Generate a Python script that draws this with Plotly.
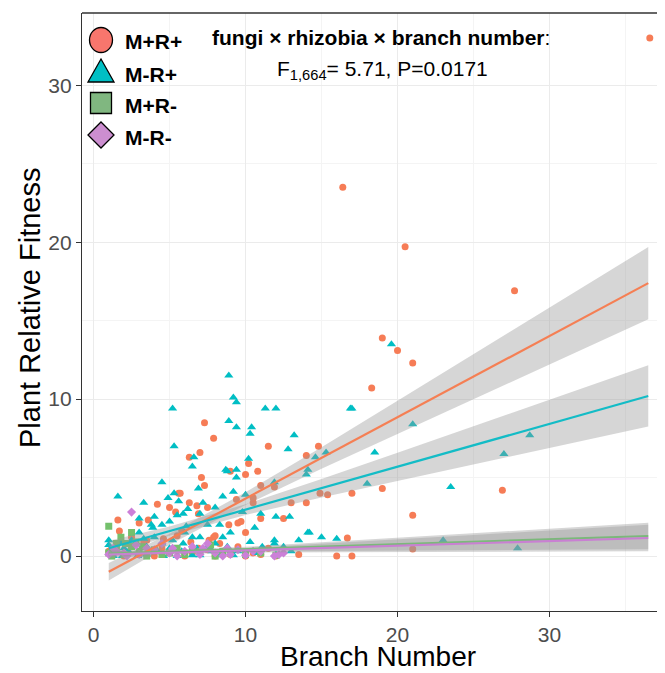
import plotly.graph_objects as go

# ---------------- data ----------------
mrp_x = [36.6, 16.4, 20.5, 27.7, 19.0, 20.0, 21.0, 18.3, 7.3, 7.9, 7.0, 6.3, 11.5, 14.8, 14.0, 7.1, 7.3, 5.7,
         9.0, 10.0, 10.8, 10.2, 11.0, 11.9, 14.9, 15.4, 17.0, 19.0, 26.9, 21.0, 13.0, 14.0, 10.5, 9.4, 10.5,
         11.0, 12.5, 8.9, 9.5, 9.7, 10.0, 16.7, 10.0, 11.0, 16.0, 17.0, 21.0, 1.6, 1.7, 3.0, 3.6, 4.2, 5.0,
         5.4, 5.6, 6.3, 6.8, 7.5, 6.9, 7.9, 8.0, 6.9, 6.4, 8.3, 7.6, 2.0, 3.0, 4.0, 5.0, 6.0, 8.0, 9.0, 12.0,
         2.5, 4.6, 5.8, 3.3, 1.2,
         1.0, 1.5, 2.5, 3.5, 4.5, 5.5, 6.5, 7.5, 8.5, 9.5, 10.5, 11.5, 13.5]
mrp_y = [33.0, 23.5, 19.7, 16.9, 13.9, 13.1, 12.3, 10.7, 8.5, 7.5, 6.6, 6.3, 7.0, 7.0, 6.4, 5.0, 4.5, 4.0,
         5.4, 5.2, 5.4, 5.9, 4.5, 4.4, 4.0, 3.9, 4.0, 4.3, 4.2, 2.6, 3.4, 3.4, 3.4, 3.6, 3.7,
         2.4, 2.4, 2.0, 2.1, 2.2, 1.5, 1.15, 0.0, 0.1, 0.0, 0.0, 0.45, 2.3, 1.6, 2.1, 2.3, 3.3, 3.1,
         2.8, 4.0, 3.4, 3.2, 3.1, 2.7, 1.2, 1.3, 0.5, 0.9, 0.8, 1.0, 0.0, 0.1, 0.0, 0.2, 0.0, 0.0, 0.1, 0.0,
         0.6, 1.1, 1.6, 0.9, 0.5,
         0.3, 0.6, 1.2, 1.0, 0.5, 1.3, 0.2, 0.4, 0.3, 0.6, 0.2, 0.5, 0.1]

mr_plus_x = [8.9, 9.2, 9.4, 11.3, 12.0, 5.2, 17.0, 8.9, 9.4, 10.4, 10.3, 13.2, 12.8, 10.2, 8.7, 9.4, 9.4,
             14.0, 15.3, 14.1, 18.5, 16.9, 19.6, 21.0, 14.6, 18.0, 15.0, 16.0, 14.2, 23.5, 27.0, 28.7, 23.0,
             27.9, 4.5, 1.6, 3.3, 4.9, 5.3, 6.9, 5.3, 6.5, 6.6, 8.8, 9.2, 10.0, 11.9, 11.0, 12.0, 12.9, 14.1,
             11.9, 11.9, 1.0, 1.0, 3.0, 3.8, 3.9, 4.5, 5.0, 5.5, 5.9, 6.1, 7.0, 7.5, 8.0, 8.3, 8.5, 8.0, 7.0,
             6.5, 5.9, 5.0, 4.5, 6.5, 8.3, 7.0, 9.2, 5.5, 4.6, 2.9, 1.9, 1.3, 10.3, 11.1, 2.0, 2.5, 3.5, 4.0,
             6.0, 7.5, 9.0, 9.8, 10.6, 12.0, 13.0, 3.5, 1.5,
             1.2, 1.8, 2.3, 2.8, 3.3, 4.2, 5.2, 5.8, 6.8, 7.8, 8.8, 9.5, 10.8, 12.5, 13.5, 3.0, 4.0, 6.2,
             7.2, 8.5, 5.6]
mr_plus_y = [11.5, 10.1, 9.8, 9.4, 9.4, 9.4, 9.4, 8.6, 8.2, 8.2, 7.8, 7.7, 6.8, 6.2, 5.5, 5.5, 5.0,
             5.2, 6.6, 5.5, 6.6, 9.4, 13.5, 8.4, 6.3, 4.6, 1.2, 1.1, 1.5, 4.4, 6.5, 7.7, 1.0,
             0.5, 4.7, 3.8, 3.4, 3.7, 4.0, 4.3, 7.0, 5.7, 6.3, 5.4, 4.1, 3.9, 4.7, 2.7, 2.5, 2.5, 1.5,
             1.0, 0.8, 1.0, 0.7, 1.5, 2.0, 1.8, 2.0, 2.2, 2.6, 2.7, 1.9, 2.7, 2.0, 3.1, 2.0, 1.2, 0.8, 1.2,
             1.2, 0.8, 0.5, 0.8, 0.05, 0.05, 0.05, 0.05, 0.0, 0.0, 0.0, 0.0, 0.0, 0.9, 0.6, 0.5, 1.0, 0.6, 1.2,
             1.5, 0.6, 1.5, 2.8, 1.8, 0.1, 0.3, 0.1, 0.3,
             0.4, 0.9, 0.3, 0.7, 1.1, 0.3, 1.0, 0.3, 0.5, 0.3, 0.6, 0.3, 0.2, 0.6, 1.0, 2.4, 2.5, 3.0,
             3.4, 3.8, 3.5]

mpr_minus_x = [1.0, 2.5, 1.5, 2.1, 7.7, 1.0, 2.0, 3.0, 4.0, 5.0, 6.0, 8.0, 10.0, 12.0, 2.5, 1.5, 3.5, 4.5,
               7.0, 9.0, 1.2, 1.8, 2.8, 3.2, 5.5, 6.5, 8.5, 11.0]
mpr_minus_y = [1.9, 1.5, 0.8, 0.8, 0.7, 0.2, 0.1, 0.3, 0.4, 0.2, 0.1, 0.0, 0.1, 0.05, 0.6, 0.4, 0.0, 0.1,
               0.3, 0.2, 0.0, 1.2, 0.9, 0.6, 0.5, 0.4, 0.3, 0.2]

mr_minus_x = [2.5, 7.5, 11.9, 8.5, 1.0, 1.5, 2.0, 3.0, 4.0, 5.0, 6.0, 7.0, 8.0, 9.0, 10.0, 11.0, 3.5, 5.5,
              6.5, 2.2, 9.5, 12.5, 1.3, 2.8, 4.5, 5.2, 7.2, 8.8, 10.5, 12.2]
mr_minus_y = [2.8, 0.8, 0.0, 0.0, 0.1, 0.3, 0.2, 0.1, 0.4, 0.2, 0.3, 0.1, 0.2, 0.1, 0.05, 0.3, 0.5, 0.0,
              0.6, 0.0, 0.4, 0.2, 0.5, 0.7, 0.8, 0.5, 0.5, 0.5, 0.3, 0.1]

# fitted lines and confidence bands (read at these branch numbers)
fit_x = [1, 5, 10, 15, 20, 25, 30, 36.5]
mrp_fit = [-1.0, 1.07, 3.66, 6.25, 8.84, 11.43, 14.02, 17.39]
mrp_lo = [-1.56, 0.72, 3.26, 5.56, 7.79, 10.01, 12.21, 15.09]
mrp_hi = [-0.44, 1.42, 4.06, 6.94, 9.89, 12.85, 15.83, 19.69]
mr_plus_fit = [0.5, 1.59, 2.96, 4.32, 5.69, 7.06, 8.42, 10.2]
mr_plus_lo = [0.02, 1.29, 2.62, 3.73, 4.79, 5.86, 6.88, 8.25]
mr_plus_hi = [0.98, 1.89, 3.30, 4.91, 6.59, 8.26, 9.96, 12.15]
mpr_minus_fit = [0.15, 0.28, 0.44, 0.60, 0.75, 0.91, 1.07, 1.28]
mpr_minus_lo = [-0.05, 0.16, 0.29, 0.33, 0.35, 0.38, 0.40, 0.43]
mpr_minus_hi = [0.35, 0.40, 0.59, 0.87, 1.15, 1.44, 1.74, 2.13]
mr_minus_fit = [0.10, 0.22, 0.37, 0.51, 0.66, 0.81, 0.96, 1.15]
mr_minus_lo = [-0.10, 0.10, 0.22, 0.24, 0.26, 0.28, 0.29, 0.30]
mr_minus_hi = [0.30, 0.34, 0.52, 0.78, 1.06, 1.34, 1.63, 2.00]

groups = ["M+R+", "M-R+", "M+R-", "M-R-"]
x_ticks = [0, 10, 20, 30]
y_ticks = [0, 10, 20, 30]

# ---------------- styling ----------------
# the page body adds an 8px offset, so the figure is 8px smaller and all
# pixel targets below are given in window coordinates
OFF = 8
WIN_W, WIN_H = 665, 673
W, H = WIN_W - OFF, WIN_H - OFF
PL, PR, PT, PB = 82, 665, 13, 611          # plot panel in window pixels
L, R, T, B = PL - OFF, WIN_W - PR, PT - OFF, WIN_H - PB
FONT = "Arial, Liberation Sans, sans-serif"

pt_col = ["#F67C56", "#00BEC4", "#74C06C", "#CC80D8"]
line_col = ["#F57F54", "#13BCC6", "#7BB87A", "#C980D2"]
leg_col = ["#F8766D", "#00BFC4", "#80B780", "#CC8ED0"]
symbols = ["circle", "triangle-up", "square", "diamond"]
sizes = [7, 8, 7, 7]

fig = go.Figure()

pts = [(mrp_x, mrp_y), (mr_plus_x, mr_plus_y), (mpr_minus_x, mpr_minus_y), (mr_minus_x, mr_minus_y)]
for i, (xs, ys) in enumerate(pts):
    fig.add_trace(go.Scatter(x=xs, y=ys, mode="markers", name=groups[i], showlegend=False,
                             marker=dict(symbol=symbols[i], size=sizes[i], color=pt_col[i],
                                         line=dict(width=0))))

bands = [(mrp_lo, mrp_hi), (mr_plus_lo, mr_plus_hi), (mpr_minus_lo, mpr_minus_hi), (mr_minus_lo, mr_minus_hi)]
for lo, hi in bands:
    fig.add_trace(go.Scatter(x=fit_x + fit_x[::-1], y=hi + lo[::-1], mode="lines", fill="toself",
                             fillcolor="rgba(153,153,153,0.4)", line=dict(width=0), showlegend=False,
                             hoverinfo="skip"))

fits = [mrp_fit, mr_plus_fit, mpr_minus_fit, mr_minus_fit]
for i, f in enumerate(fits):
    fig.add_trace(go.Scatter(x=fit_x, y=f, mode="lines", line=dict(color=line_col[i], width=2.2),
                             showlegend=False))

pw = PR - PL
ph = PB - PT


def px(v):
    return (v - PL) / pw


def py(v):
    return (PB - v) / ph


shapes = []
# top border of panel
shapes.append(dict(type="line", xref="paper", yref="paper", x0=0, x1=1, y0=1, y1=1,
                   line=dict(color="#333333", width=1.3)))
# legend keys
cx = 101
ly = [40, 72, 103, 135]
shapes.append(dict(type="circle", xref="paper", yref="paper", x0=px(cx - 11.5), x1=px(cx + 11.5),
                   y0=py(ly[0] + 12.5), y1=py(ly[0] - 12.5), fillcolor=leg_col[0],
                   line=dict(color="black", width=1.3)))
tri = f"M {px(cx - 13)} {py(ly[1] + 10)} L {px(cx + 13)} {py(ly[1] + 10)} L {px(cx)} {py(ly[1] - 13)} Z"
shapes.append(dict(type="path", xref="paper", yref="paper", path=tri, fillcolor=leg_col[1],
                   line=dict(color="black", width=1.3)))
shapes.append(dict(type="rect", xref="paper", yref="paper", x0=px(cx - 10.5), x1=px(cx + 10.5),
                   y0=py(ly[2] + 10.5), y1=py(ly[2] - 10.5), fillcolor=leg_col[2],
                   line=dict(color="black", width=1.3)))
dia = (f"M {px(cx - 13)} {py(ly[3])} L {px(cx)} {py(ly[3] - 13)} L {px(cx + 13)} {py(ly[3])} "
       f"L {px(cx)} {py(ly[3] + 13)} Z")
shapes.append(dict(type="path", xref="paper", yref="paper", path=dia, fillcolor=leg_col[3],
                   line=dict(color="black", width=1.3)))

annotations = []
for i, g in enumerate(groups):
    annotations.append(dict(xref="paper", yref="paper", x=px(123), y=py(ly[i] + 2), xanchor="left",
                            yanchor="middle", showarrow=False, text=f"<b>{g}</b>",
                            font=dict(family=FONT, size=21, color="black")))
annotations.append(dict(xref="paper", yref="paper", x=px(210), y=py(38), xanchor="left", yanchor="middle",
                        showarrow=False, text="<b>fungi × rhizobia × branch number</b>:",
                        font=dict(family=FONT, size=21, color="black")))
annotations.append(dict(xref="paper", yref="paper", x=px(275), y=py(70), xanchor="left", yanchor="middle",
                        showarrow=False, text="F<sub>1,664</sub>= 5.71, P=0.0171",
                        font=dict(family=FONT, size=21, color="black")))
# axis titles
annotations.append(dict(xref="paper", yref="paper", x=px(378), y=py(656), xanchor="center", yanchor="middle",
                        showarrow=False, text="Branch Number",
                        font=dict(family=FONT, size=28, color="black")))
annotations.append(dict(xref="paper", yref="paper", x=px(30), y=py(308), xanchor="center", yanchor="middle",
                        showarrow=False, text="Plant Relative Fitness", textangle=-90,
                        font=dict(family=FONT, size=29, color="black")))

axis_common = dict(
    showline=True, linecolor="#333333", linewidth=1.3, mirror=False,
    ticks="outside", ticklen=5, tickwidth=1.2, tickcolor="#333333",
    tickfont=dict(family=FONT, size=21, color="#4D4D4D"),
    showgrid=True, gridcolor="#EBEBEB", gridwidth=1.2, zeroline=False, automargin=False,
    minor=dict(dtick=5, showgrid=True, gridcolor="#F4F4F4", gridwidth=0.6, ticks=""),
)

fig.update_layout(
    width=W, height=H,
    margin=dict(l=L, r=R, t=T, b=B, pad=0),
    paper_bgcolor="white", plot_bgcolor="white",
    showlegend=False,
    shapes=shapes, annotations=annotations,
    xaxis=dict(range=[-0.76, 37.6], tickvals=x_ticks, tick0=0, **axis_common),
    yaxis=dict(range=[-3.5, 34.6], tickvals=y_ticks, tick0=0, **axis_common),
)

fig.write_html("out.html")
